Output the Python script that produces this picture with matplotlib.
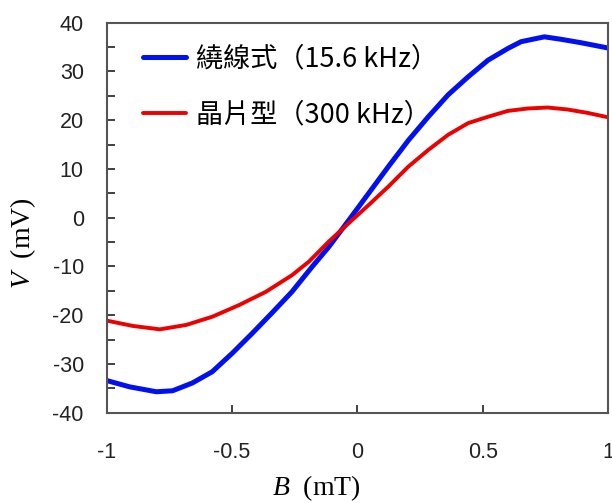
import numpy as np
import matplotlib
matplotlib.use('Agg')
import matplotlib.pyplot as plt
from matplotlib.ticker import MultipleLocator

b_wire = [-1.0, -0.908, -0.802, -0.737, -0.658, -0.579, -0.499, -0.419, -0.340, -0.261,
          -0.181, -0.114, -0.034, 0.045, 0.124, 0.204, 0.283, 0.362, 0.442, 0.521,
          0.600, 0.653, 0.746, 0.812, 0.891, 0.971, 1.0]
v_wire = [-33.4, -34.7, -35.7, -35.5, -33.9, -31.6, -27.8, -23.7, -19.5, -15.2,
          -10.1, -6.0, -0.5, 5.0, 10.5, 15.9, 20.7, 25.2, 28.9, 32.3,
          34.7, 36.1, 37.1, 36.6, 35.9, 35.1, 34.8]

b_chip = [-1.0, -0.896, -0.788, -0.683, -0.578, -0.471, -0.365, -0.261, -0.193, -0.114,
          -0.034, 0.045, 0.124, 0.204, 0.283, 0.362, 0.442, 0.521, 0.600, 0.680,
          0.759, 0.838, 0.918, 1.0]
v_chip = [-21.1, -22.2, -22.9, -22.0, -20.3, -17.9, -15.2, -11.8, -9.0, -4.9,
          -1.1, 2.6, 6.4, 10.5, 13.9, 17.0, 19.4, 20.7, 21.9, 22.4,
          22.6, 22.2, 21.5, 20.6]

labels = ['繞線式（15.6 kHz）', '晶片型（300 kHz）']
xticks = [-1, -0.5, 0, 0.5, 1]
yticks = list(range(-40, 41, 10))

plt.rcParams['mathtext.fontset'] = 'custom'
plt.rcParams['mathtext.rm'] = 'Liberation Serif'
plt.rcParams['mathtext.it'] = 'Liberation Serif:italic'

fig = plt.figure(figsize=(6.12, 5.03), dpi=100)
ax = fig.add_axes([0.1743, 0.1795, 0.8192, 0.7754])

ax.plot(b_wire, v_wire, color='#0010ee', lw=3.6, label=labels[0], solid_capstyle='round')
ax.plot(b_chip, v_chip, color='#ee0000', lw=2.8, label=labels[1], solid_capstyle='round')

ax.set_xlim(-1, 1)
ax.set_ylim(-40, 40)
ax.set_xticks(xticks)
ax.set_xticklabels(['-1', '-0.5', '0', '0.5', '1'])
ax.set_yticks(yticks)
ax.set_yticklabels([str(v) for v in yticks])
ax.yaxis.set_minor_locator(MultipleLocator(5))

ax.tick_params(which='both', direction='in', length=6, width=1.3, color='#333333',
               labelsize=15.5)
ax.tick_params(axis='x', pad=21)
ax.tick_params(axis='y', pad=16.5)
for lab in ax.get_xticklabels() + ax.get_yticklabels():
    lab.set_fontfamily('Liberation Sans')
    lab.set_color('#222222')
for s in ax.spines.values():
    s.set_linewidth(1.5)
    s.set_color('#555555')

ax.set_xlabel(r'$B$  (mT)', fontsize=20, fontfamily='Liberation Serif')
ax.set_ylabel(r'$V$  (mV)', fontsize=20, fontfamily='Liberation Serif')
ax.xaxis.set_label_coords(0.4175, -0.154)
ax.yaxis.set_label_coords(-0.137, 0.434)

leg = ax.legend(loc='upper left', bbox_to_anchor=(0.024, 1.0036), frameon=False,
                prop={'family': ['Noto Sans CJK TC', 'DejaVu Sans'], 'size': 19.5},
                handlelength=1.6, handletextpad=0.37, labelspacing=1.05)

fig.savefig('out.png', dpi=100)
